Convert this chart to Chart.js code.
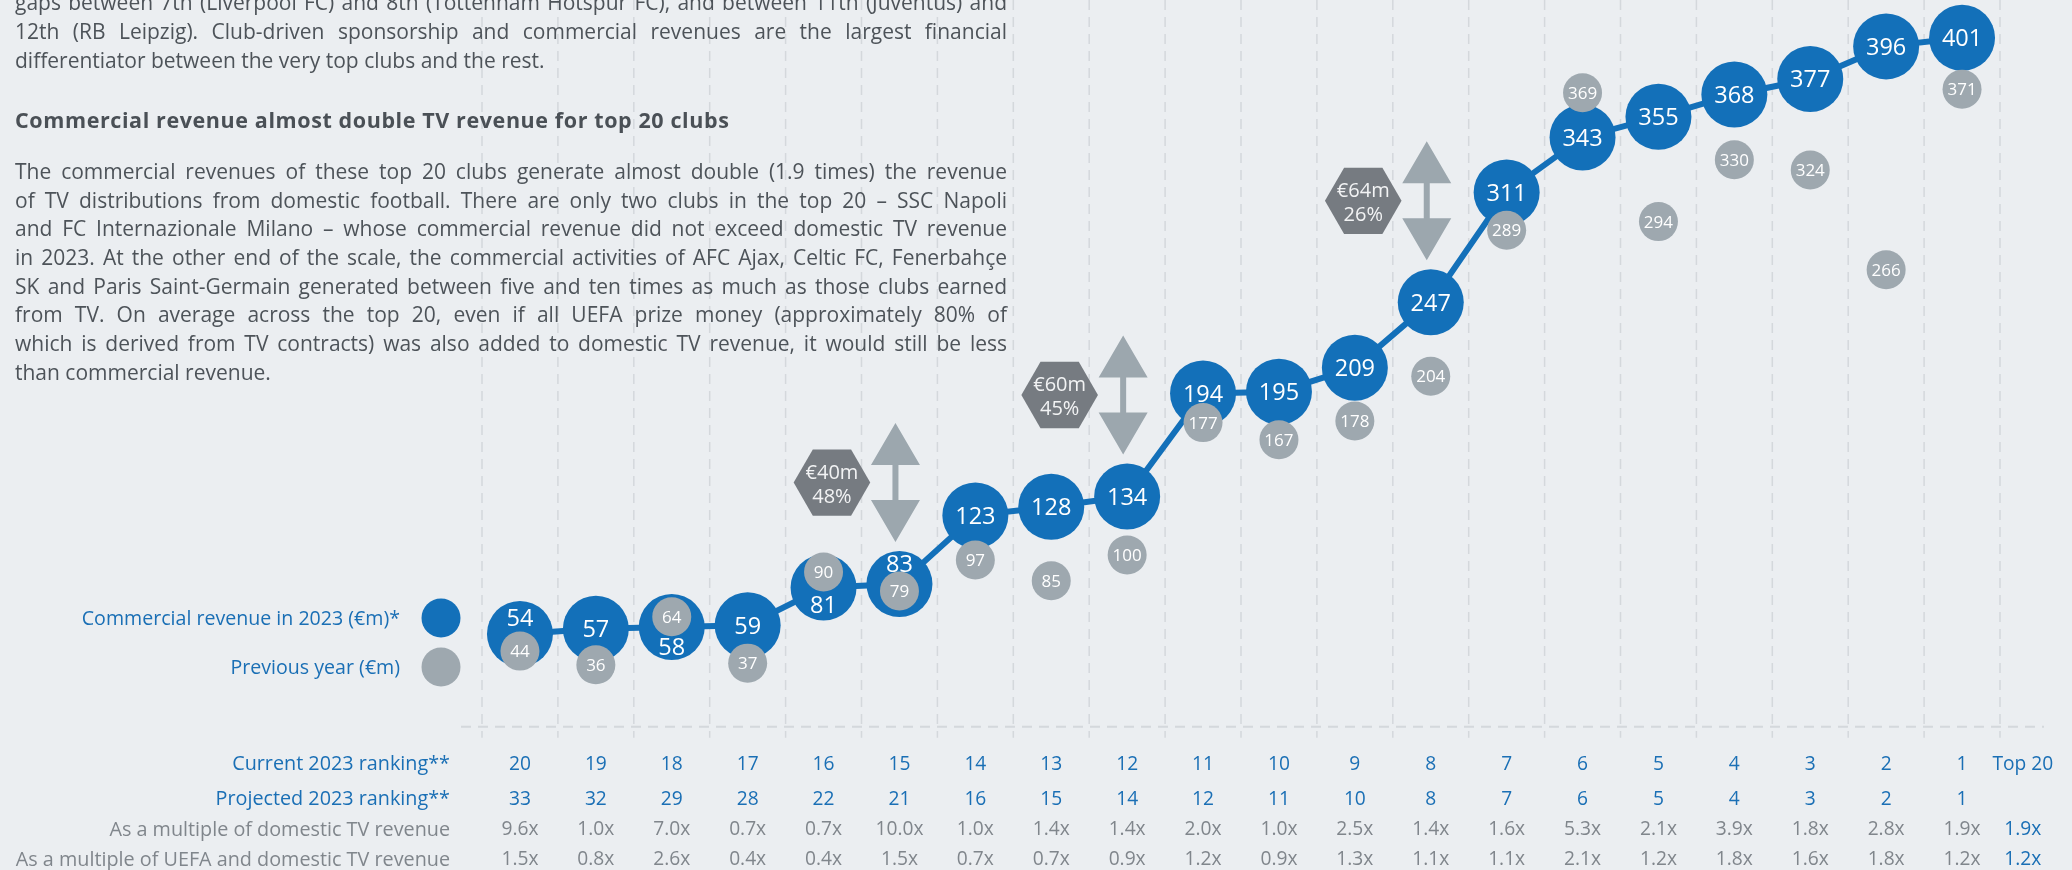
<!DOCTYPE html>
<html>
<head>
<meta charset="utf-8">
<script src="https://cdn.jsdelivr.net/npm/chart.js@4/dist/chart.umd.min.js"></script>
<style>
html,body{margin:0;padding:0;background:#ebeef1;}
#wrap{position:relative;width:2072px;height:870px;overflow:hidden;font-family:"Open Sans",sans-serif;}
#chart{position:absolute;left:0;top:0;width:2072px;height:870px;}
.txt{position:absolute;left:15px;width:992px;color:#4d5359;font-size:21px;pointer-events:none;}
.l{height:28.7px;line-height:28.7px;white-space:nowrap;}
.l span{display:inline-block;}
.h{font-weight:700;color:#4a5056;font-size:21.5px;letter-spacing:0.6px;white-space:nowrap;line-height:28px;}
</style>
</head>
<body>
<div id="wrap">
<canvas id="chart" width="2072" height="870"></canvas>
<div class="txt" style="top:-11.8px">
<div class="l j"><span>gaps between 7th (Liverpool FC) and 8th (Tottenham Hotspur FC), and between 11th (Juventus) and</span></div>
<div class="l j"><span>12th (RB Leipzig). Club-driven sponsorship and commercial revenues are the largest financial</span></div>
<div class="l"><span>differentiator between the very top clubs and the rest.</span></div>
</div>
<div class="txt h" style="top:106px">Commercial revenue almost double TV revenue for top 20 clubs</div>
<div class="txt" style="top:157px">
<div class="l j"><span>The commercial revenues of these top 20 clubs generate almost double (1.9 times) the revenue</span></div>
<div class="l j"><span>of TV distributions from domestic football. There are only two clubs in the top 20 – SSC Napoli</span></div>
<div class="l j"><span>and FC Internazionale Milano – whose commercial revenue did not exceed domestic TV revenue</span></div>
<div class="l j"><span>in 2023. At the other end of the scale, the commercial activities of AFC Ajax, Celtic FC, Fenerbahçe</span></div>
<div class="l j"><span>SK and Paris Saint-Germain generated between five and ten times as much as those clubs earned</span></div>
<div class="l j"><span>from TV. On average across the top 20, even if all UEFA prize money (approximately 80% of</span></div>
<div class="l j"><span>which is derived from TV contracts) was also added to domestic TV revenue, it would still be less</span></div>
<div class="l"><span>than commercial revenue.</span></div>
</div>
</div>
<script>
// ---------- data ----------
const ranks = ['20','19','18','17','16','15','14','13','12','11','10','9','8','7','6','5','4','3','2','1'];
const revenue2023 = [54,57,58,59,81,83,123,128,134,194,195,209,247,311,343,355,368,377,396,401];
const revenuePrev = [44,36,64,37,90,79,97,85,100,177,167,178,204,289,369,294,330,324,266,371];
const projectedRank = ['33','32','29','28','22','21','16','15','14','12','11','10','8','7','6','5','4','3','2','1'];
const multDomestic = ['9.6x','1.0x','7.0x','0.7x','0.7x','10.0x','1.0x','1.4x','1.4x','2.0x','1.0x','2.5x','1.4x','1.6x','5.3x','2.1x','3.9x','1.8x','2.8x','1.9x'];
const multUefaDomestic = ['1.5x','0.8x','2.6x','0.4x','0.4x','1.5x','0.7x','0.7x','0.9x','1.2x','0.9x','1.3x','1.1x','1.1x','2.1x','1.2x','1.8x','1.6x','1.8x','1.2x'];
const top20Column = ['Top 20','','1.9x','1.2x'];
const gapRanks = ['15','12','8'];
const rowLabels = ['Current 2023 ranking**','Projected 2023 ranking**','As a multiple of domestic TV revenue','As a multiple of UEFA and domestic TV revenue'];
const legendLabels = ['Commercial revenue in 2023 (€m)*','Previous year (€m)'];

// ---------- justify text lines ----------
document.querySelectorAll('.l.j span').forEach(s=>{
  const W = 992;
  const w = s.getBoundingClientRect().width;
  const t = s.textContent;
  const spaces = (t.match(/ /g)||[]).length;
  if (w > W) {
    s.style.letterSpacing = ((W - w) / t.length) + 'px';
  } else if (spaces) {
    s.style.wordSpacing = ((W - w) / spaces) + 'px';
  }
});

// ---------- styles ----------
const BLUE = '#1370b9', GRAY = '#9ea8af', HEX = '#767b81', ARROW = '#9ca7ae', GRID = '#d4d8dc';
const ROWBLUE = '#1a6fb5', ROWGRAY = '#80868c';
const BLUE_R = 33, GRAY_R = 19.5;
const FONT = '"Open Sans", sans-serif';

function txt(ctx, s, x, yc, size, color, align, weight) {
  ctx.font = (weight || '400') + ' ' + size + 'px ' + FONT;
  ctx.fillStyle = color;
  ctx.textAlign = align || 'center';
  ctx.textBaseline = 'alphabetic';
  ctx.fillText(s, x, yc + size * 0.36);
}

const decor = {
  id: 'decor',
  beforeDatasetsDraw(chart) {
    const {ctx, chartArea: a, scales: {x, y}} = chart;
    const n = ranks.length;
    const step = x.getPixelForValue(1) - x.getPixelForValue(0);
    const zeroY = y.getPixelForValue(0);
    ctx.save();
    ctx.strokeStyle = GRID;
    ctx.lineWidth = 1.5;
    ctx.setLineDash([10, 7]);
    for (let i = 0; i <= n; i++) {
      const px = x.getPixelForValue(0) - step / 2 + i * step;
      ctx.beginPath(); ctx.moveTo(px, 0); ctx.lineTo(px, zeroY + 11); ctx.stroke();
    }
    ctx.lineWidth = 2;
    ctx.beginPath(); ctx.moveTo(a.left - 21, zeroY); ctx.lineTo(a.right + 44, zeroY); ctx.stroke();
    ctx.setLineDash([]);

    // gap annotations
    gapRanks.forEach(r => {
      const i = ranks.indexOf(r);
      const v = revenue2023[i], v2 = revenue2023[i + 1];
      const diff = v2 - v, pct = Math.round(diff / v * 100);
      const ax = x.getPixelForValue(i) - 4;
      const bottom = y.getPixelForValue(v) - BLUE_R - 9;
      const top = bottom - 119;
      const cy = (top + bottom) / 2;
      const hw = 24.5, hh = 42, sw = 3;
      ctx.fillStyle = ARROW;
      ctx.beginPath();
      ctx.moveTo(ax, top); ctx.lineTo(ax + hw, top + hh); ctx.lineTo(ax + sw, top + hh);
      ctx.lineTo(ax + sw, bottom - hh); ctx.lineTo(ax + hw, bottom - hh); ctx.lineTo(ax, bottom);
      ctx.lineTo(ax - hw, bottom - hh); ctx.lineTo(ax - sw, bottom - hh); ctx.lineTo(ax - sw, top + hh);
      ctx.lineTo(ax - hw, top + hh); ctx.closePath(); ctx.fill();
      const hx = ax - 63.5, R = 38.3;
      ctx.fillStyle = HEX;
      ctx.beginPath();
      for (let k = 0; k < 6; k++) {
        const ang = Math.PI / 3 * k;
        const px = hx + R * Math.cos(ang), py = cy + R * Math.sin(ang);
        k ? ctx.lineTo(px, py) : ctx.moveTo(px, py);
      }
      ctx.closePath(); ctx.fill();
      txt(ctx, '€' + diff + 'm', hx, cy - 11, 20, '#f2f3f4');
      txt(ctx, pct + '%', hx, cy + 13, 20, '#f2f3f4');
    });
    ctx.restore();
  },
  afterDatasetsDraw(chart) {
    const {ctx, chartArea: a, scales: {x, y}} = chart;
    const step = x.getPixelForValue(1) - x.getPixelForValue(0);
    ctx.save();
    // bubble labels
    revenue2023.forEach((v, i) => {
      const cx = x.getPixelForValue(i), cy = y.getPixelForValue(v);
      const gy = y.getPixelForValue(revenuePrev[i]);
      const d = gy - cy;
      let ly = cy;
      if (Math.abs(d) < 25) {
        const mid = d < 0 ? ((gy + GRAY_R) + (cy + BLUE_R)) / 2 : ((cy - BLUE_R) + (gy - GRAY_R)) / 2;
        ly = cy + (mid - cy) * 0.9;
      }
      txt(ctx, String(v), cx, ly, 23.5, '#ffffff');
    });
    revenuePrev.forEach((v, i) => {
      txt(ctx, String(v), x.getPixelForValue(i), y.getPixelForValue(v), 17, '#ffffff');
    });
    // legend
    const lx = a.left - 41;
    [[BLUE, 618], [GRAY, 667]].forEach((c, k) => {
      ctx.fillStyle = c[0];
      ctx.beginPath(); ctx.arc(lx, c[1], 19.5, 0, Math.PI * 2); ctx.fill();
      txt(ctx, legendLabels[k], lx - 41, c[1], 19.6, ROWBLUE, 'right');
    });
    // table rows
    const rows = [ranks, projectedRank, multDomestic, multUefaDomestic];
    const rowY = [763, 798, 828.5, 858.5];
    const rowCol = [ROWBLUE, ROWBLUE, ROWGRAY, ROWGRAY];
    rows.forEach((row, r) => {
      txt(ctx, rowLabels[r], a.left - 32, rowY[r], 19.8, rowCol[r], 'right');
      row.forEach((s, i) => txt(ctx, s, x.getPixelForValue(i), rowY[r], 19.2, rowCol[r]));
      txt(ctx, top20Column[r], x.getPixelForValue(ranks.length - 1) + step * 0.8, rowY[r], 19.2, ROWBLUE);
    });
    ctx.restore();
  }
};

new Chart(document.getElementById('chart'), {
  type: 'line',
  data: {
    labels: ranks,
    datasets: [
      {label: legendLabels[1], data: revenuePrev, showLine: false, pointRadius: GRAY_R, pointHoverRadius: GRAY_R,
       pointBackgroundColor: GRAY, pointBorderWidth: 0, borderWidth: 0, order: 0, clip: false},
      {label: legendLabels[0], data: revenue2023, borderColor: BLUE, borderWidth: 6, tension: 0,
       pointRadius: BLUE_R, pointHoverRadius: BLUE_R, pointBackgroundColor: BLUE, pointBorderWidth: 0,
       order: 1, clip: false}
    ]
  },
  options: {
    responsive: false, animation: false, devicePixelRatio: 1, events: [],
    layout: {autoPadding: false, padding: {left: 482, right: 72, top: 0, bottom: 143.3}},
    scales: {
      x: {display: false, offset: true},
      y: {display: false, min: 0, max: 423}
    },
    plugins: {legend: {display: false}, tooltip: {enabled: false}}
  },
  plugins: [decor]
});
</script>
</body>
</html>
